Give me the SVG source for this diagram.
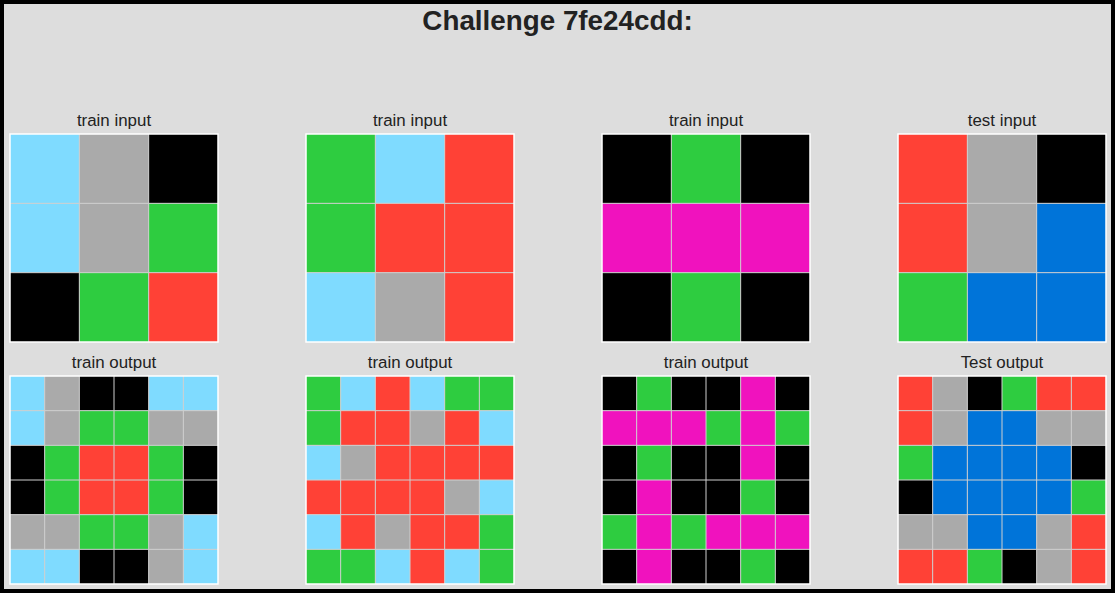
<svg xmlns="http://www.w3.org/2000/svg" width="1115" height="593" viewBox="0 0 1115 593">
<style>
.t{font-family:"Liberation Sans",Arial,sans-serif;font-size:16.9px;fill:#222;text-anchor:middle}
.h{font-family:"Liberation Sans",Arial,sans-serif;font-size:27.8px;font-weight:bold;fill:#222;text-anchor:middle}
.k{fill:#000}.b{fill:#7fdbff}.g{fill:#aaaaaa}.n{fill:#2ecc40}.r{fill:#ff4136}.m{fill:#f012be}.u{fill:#0074d9}
.ln{stroke:#cfcfcf;stroke-width:1;fill:none}
.fr{stroke:#ffffff;stroke-width:1.5;fill:none}
</style>
<defs>
<path id="g3" class="ln" d="M69.33 0V208M138.67 0V208M0 69.33H208M0 138.67H208"/>
<path id="g6" class="ln" d="M34.67 0V208M69.33 0V208M104 0V208M138.67 0V208M173.33 0V208M0 34.67H208M0 69.33H208M0 104H208M0 138.67H208M0 173.33H208"/>
</defs>
<rect x="0" y="0" width="1115" height="593" fill="#000"/>
<rect x="4" y="4" width="1107" height="585" fill="#dddddd"/>
<text class="h" x="557.5" y="30">Challenge 7fe24cdd:</text>

<g id="train1-input" transform="translate(10,134)">
<text class="t" x="104" y="-8">train input</text>
<rect class="b" x="0" y="0" width="69.33" height="69.33"/><rect class="g" x="69.33" y="0" width="69.33" height="69.33"/><rect class="k" x="138.67" y="0" width="69.33" height="69.33"/>
<rect class="b" x="0" y="69.33" width="69.33" height="69.33"/><rect class="g" x="69.33" y="69.33" width="69.33" height="69.33"/><rect class="n" x="138.67" y="69.33" width="69.33" height="69.33"/>
<rect class="k" x="0" y="138.67" width="69.33" height="69.33"/><rect class="n" x="69.33" y="138.67" width="69.33" height="69.33"/><rect class="r" x="138.67" y="138.67" width="69.33" height="69.33"/>
<use href="#g3"/><rect class="fr" x="0" y="0" width="208" height="208"/>
</g>

<g id="train2-input" transform="translate(306,134)">
<text class="t" x="104" y="-8">train input</text>
<rect class="n" x="0" y="0" width="69.33" height="69.33"/><rect class="b" x="69.33" y="0" width="69.33" height="69.33"/><rect class="r" x="138.67" y="0" width="69.33" height="69.33"/>
<rect class="n" x="0" y="69.33" width="69.33" height="69.33"/><rect class="r" x="69.33" y="69.33" width="69.33" height="69.33"/><rect class="r" x="138.67" y="69.33" width="69.33" height="69.33"/>
<rect class="b" x="0" y="138.67" width="69.33" height="69.33"/><rect class="g" x="69.33" y="138.67" width="69.33" height="69.33"/><rect class="r" x="138.67" y="138.67" width="69.33" height="69.33"/>
<use href="#g3"/><rect class="fr" x="0" y="0" width="208" height="208"/>
</g>

<g id="train3-input" transform="translate(602,134)">
<text class="t" x="104" y="-8">train input</text>
<rect class="k" x="0" y="0" width="69.33" height="69.33"/><rect class="n" x="69.33" y="0" width="69.33" height="69.33"/><rect class="k" x="138.67" y="0" width="69.33" height="69.33"/>
<rect class="m" x="0" y="69.33" width="69.33" height="69.33"/><rect class="m" x="69.33" y="69.33" width="69.33" height="69.33"/><rect class="m" x="138.67" y="69.33" width="69.33" height="69.33"/>
<rect class="k" x="0" y="138.67" width="69.33" height="69.33"/><rect class="n" x="69.33" y="138.67" width="69.33" height="69.33"/><rect class="k" x="138.67" y="138.67" width="69.33" height="69.33"/>
<use href="#g3"/><rect class="fr" x="0" y="0" width="208" height="208"/>
</g>

<g id="test-input" transform="translate(898,134)">
<text class="t" x="104" y="-8">test input</text>
<rect class="r" x="0" y="0" width="69.33" height="69.33"/><rect class="g" x="69.33" y="0" width="69.33" height="69.33"/><rect class="k" x="138.67" y="0" width="69.33" height="69.33"/>
<rect class="r" x="0" y="69.33" width="69.33" height="69.33"/><rect class="g" x="69.33" y="69.33" width="69.33" height="69.33"/><rect class="u" x="138.67" y="69.33" width="69.33" height="69.33"/>
<rect class="n" x="0" y="138.67" width="69.33" height="69.33"/><rect class="u" x="69.33" y="138.67" width="69.33" height="69.33"/><rect class="u" x="138.67" y="138.67" width="69.33" height="69.33"/>
<use href="#g3"/><rect class="fr" x="0" y="0" width="208" height="208"/>
</g>

<g id="train1-output" transform="translate(10,376)">
<text class="t" x="104" y="-8">train output</text>
<rect class="b" x="0" y="0" width="34.67" height="34.67"/><rect class="g" x="34.67" y="0" width="34.67" height="34.67"/><rect class="k" x="69.33" y="0" width="34.67" height="34.67"/><rect class="k" x="104" y="0" width="34.67" height="34.67"/><rect class="b" x="138.67" y="0" width="34.67" height="34.67"/><rect class="b" x="173.33" y="0" width="34.67" height="34.67"/>
<rect class="b" x="0" y="34.67" width="34.67" height="34.67"/><rect class="g" x="34.67" y="34.67" width="34.67" height="34.67"/><rect class="n" x="69.33" y="34.67" width="34.67" height="34.67"/><rect class="n" x="104" y="34.67" width="34.67" height="34.67"/><rect class="g" x="138.67" y="34.67" width="34.67" height="34.67"/><rect class="g" x="173.33" y="34.67" width="34.67" height="34.67"/>
<rect class="k" x="0" y="69.33" width="34.67" height="34.67"/><rect class="n" x="34.67" y="69.33" width="34.67" height="34.67"/><rect class="r" x="69.33" y="69.33" width="34.67" height="34.67"/><rect class="r" x="104" y="69.33" width="34.67" height="34.67"/><rect class="n" x="138.67" y="69.33" width="34.67" height="34.67"/><rect class="k" x="173.33" y="69.33" width="34.67" height="34.67"/>
<rect class="k" x="0" y="104" width="34.67" height="34.67"/><rect class="n" x="34.67" y="104" width="34.67" height="34.67"/><rect class="r" x="69.33" y="104" width="34.67" height="34.67"/><rect class="r" x="104" y="104" width="34.67" height="34.67"/><rect class="n" x="138.67" y="104" width="34.67" height="34.67"/><rect class="k" x="173.33" y="104" width="34.67" height="34.67"/>
<rect class="g" x="0" y="138.67" width="34.67" height="34.67"/><rect class="g" x="34.67" y="138.67" width="34.67" height="34.67"/><rect class="n" x="69.33" y="138.67" width="34.67" height="34.67"/><rect class="n" x="104" y="138.67" width="34.67" height="34.67"/><rect class="g" x="138.67" y="138.67" width="34.67" height="34.67"/><rect class="b" x="173.33" y="138.67" width="34.67" height="34.67"/>
<rect class="b" x="0" y="173.33" width="34.67" height="34.67"/><rect class="b" x="34.67" y="173.33" width="34.67" height="34.67"/><rect class="k" x="69.33" y="173.33" width="34.67" height="34.67"/><rect class="k" x="104" y="173.33" width="34.67" height="34.67"/><rect class="g" x="138.67" y="173.33" width="34.67" height="34.67"/><rect class="b" x="173.33" y="173.33" width="34.67" height="34.67"/>
<use href="#g6"/><rect class="fr" x="0" y="0" width="208" height="208"/>
</g>

<g id="train2-output" transform="translate(306,376)">
<text class="t" x="104" y="-8">train output</text>
<rect class="n" x="0" y="0" width="34.67" height="34.67"/><rect class="b" x="34.67" y="0" width="34.67" height="34.67"/><rect class="r" x="69.33" y="0" width="34.67" height="34.67"/><rect class="b" x="104" y="0" width="34.67" height="34.67"/><rect class="n" x="138.67" y="0" width="34.67" height="34.67"/><rect class="n" x="173.33" y="0" width="34.67" height="34.67"/>
<rect class="n" x="0" y="34.67" width="34.67" height="34.67"/><rect class="r" x="34.67" y="34.67" width="34.67" height="34.67"/><rect class="r" x="69.33" y="34.67" width="34.67" height="34.67"/><rect class="g" x="104" y="34.67" width="34.67" height="34.67"/><rect class="r" x="138.67" y="34.67" width="34.67" height="34.67"/><rect class="b" x="173.33" y="34.67" width="34.67" height="34.67"/>
<rect class="b" x="0" y="69.33" width="34.67" height="34.67"/><rect class="g" x="34.67" y="69.33" width="34.67" height="34.67"/><rect class="r" x="69.33" y="69.33" width="34.67" height="34.67"/><rect class="r" x="104" y="69.33" width="34.67" height="34.67"/><rect class="r" x="138.67" y="69.33" width="34.67" height="34.67"/><rect class="r" x="173.33" y="69.33" width="34.67" height="34.67"/>
<rect class="r" x="0" y="104" width="34.67" height="34.67"/><rect class="r" x="34.67" y="104" width="34.67" height="34.67"/><rect class="r" x="69.33" y="104" width="34.67" height="34.67"/><rect class="r" x="104" y="104" width="34.67" height="34.67"/><rect class="g" x="138.67" y="104" width="34.67" height="34.67"/><rect class="b" x="173.33" y="104" width="34.67" height="34.67"/>
<rect class="b" x="0" y="138.67" width="34.67" height="34.67"/><rect class="r" x="34.67" y="138.67" width="34.67" height="34.67"/><rect class="g" x="69.33" y="138.67" width="34.67" height="34.67"/><rect class="r" x="104" y="138.67" width="34.67" height="34.67"/><rect class="r" x="138.67" y="138.67" width="34.67" height="34.67"/><rect class="n" x="173.33" y="138.67" width="34.67" height="34.67"/>
<rect class="n" x="0" y="173.33" width="34.67" height="34.67"/><rect class="n" x="34.67" y="173.33" width="34.67" height="34.67"/><rect class="b" x="69.33" y="173.33" width="34.67" height="34.67"/><rect class="r" x="104" y="173.33" width="34.67" height="34.67"/><rect class="b" x="138.67" y="173.33" width="34.67" height="34.67"/><rect class="n" x="173.33" y="173.33" width="34.67" height="34.67"/>
<use href="#g6"/><rect class="fr" x="0" y="0" width="208" height="208"/>
</g>

<g id="train3-output" transform="translate(602,376)">
<text class="t" x="104" y="-8">train output</text>
<rect class="k" x="0" y="0" width="34.67" height="34.67"/><rect class="n" x="34.67" y="0" width="34.67" height="34.67"/><rect class="k" x="69.33" y="0" width="34.67" height="34.67"/><rect class="k" x="104" y="0" width="34.67" height="34.67"/><rect class="m" x="138.67" y="0" width="34.67" height="34.67"/><rect class="k" x="173.33" y="0" width="34.67" height="34.67"/>
<rect class="m" x="0" y="34.67" width="34.67" height="34.67"/><rect class="m" x="34.67" y="34.67" width="34.67" height="34.67"/><rect class="m" x="69.33" y="34.67" width="34.67" height="34.67"/><rect class="n" x="104" y="34.67" width="34.67" height="34.67"/><rect class="m" x="138.67" y="34.67" width="34.67" height="34.67"/><rect class="n" x="173.33" y="34.67" width="34.67" height="34.67"/>
<rect class="k" x="0" y="69.33" width="34.67" height="34.67"/><rect class="n" x="34.67" y="69.33" width="34.67" height="34.67"/><rect class="k" x="69.33" y="69.33" width="34.67" height="34.67"/><rect class="k" x="104" y="69.33" width="34.67" height="34.67"/><rect class="m" x="138.67" y="69.33" width="34.67" height="34.67"/><rect class="k" x="173.33" y="69.33" width="34.67" height="34.67"/>
<rect class="k" x="0" y="104" width="34.67" height="34.67"/><rect class="m" x="34.67" y="104" width="34.67" height="34.67"/><rect class="k" x="69.33" y="104" width="34.67" height="34.67"/><rect class="k" x="104" y="104" width="34.67" height="34.67"/><rect class="n" x="138.67" y="104" width="34.67" height="34.67"/><rect class="k" x="173.33" y="104" width="34.67" height="34.67"/>
<rect class="n" x="0" y="138.67" width="34.67" height="34.67"/><rect class="m" x="34.67" y="138.67" width="34.67" height="34.67"/><rect class="n" x="69.33" y="138.67" width="34.67" height="34.67"/><rect class="m" x="104" y="138.67" width="34.67" height="34.67"/><rect class="m" x="138.67" y="138.67" width="34.67" height="34.67"/><rect class="m" x="173.33" y="138.67" width="34.67" height="34.67"/>
<rect class="k" x="0" y="173.33" width="34.67" height="34.67"/><rect class="m" x="34.67" y="173.33" width="34.67" height="34.67"/><rect class="k" x="69.33" y="173.33" width="34.67" height="34.67"/><rect class="k" x="104" y="173.33" width="34.67" height="34.67"/><rect class="n" x="138.67" y="173.33" width="34.67" height="34.67"/><rect class="k" x="173.33" y="173.33" width="34.67" height="34.67"/>
<use href="#g6"/><rect class="fr" x="0" y="0" width="208" height="208"/>
</g>

<g id="test-output" transform="translate(898,376)">
<text class="t" x="104" y="-8">Test output</text>
<rect class="r" x="0" y="0" width="34.67" height="34.67"/><rect class="g" x="34.67" y="0" width="34.67" height="34.67"/><rect class="k" x="69.33" y="0" width="34.67" height="34.67"/><rect class="n" x="104" y="0" width="34.67" height="34.67"/><rect class="r" x="138.67" y="0" width="34.67" height="34.67"/><rect class="r" x="173.33" y="0" width="34.67" height="34.67"/>
<rect class="r" x="0" y="34.67" width="34.67" height="34.67"/><rect class="g" x="34.67" y="34.67" width="34.67" height="34.67"/><rect class="u" x="69.33" y="34.67" width="34.67" height="34.67"/><rect class="u" x="104" y="34.67" width="34.67" height="34.67"/><rect class="g" x="138.67" y="34.67" width="34.67" height="34.67"/><rect class="g" x="173.33" y="34.67" width="34.67" height="34.67"/>
<rect class="n" x="0" y="69.33" width="34.67" height="34.67"/><rect class="u" x="34.67" y="69.33" width="34.67" height="34.67"/><rect class="u" x="69.33" y="69.33" width="34.67" height="34.67"/><rect class="u" x="104" y="69.33" width="34.67" height="34.67"/><rect class="u" x="138.67" y="69.33" width="34.67" height="34.67"/><rect class="k" x="173.33" y="69.33" width="34.67" height="34.67"/>
<rect class="k" x="0" y="104" width="34.67" height="34.67"/><rect class="u" x="34.67" y="104" width="34.67" height="34.67"/><rect class="u" x="69.33" y="104" width="34.67" height="34.67"/><rect class="u" x="104" y="104" width="34.67" height="34.67"/><rect class="u" x="138.67" y="104" width="34.67" height="34.67"/><rect class="n" x="173.33" y="104" width="34.67" height="34.67"/>
<rect class="g" x="0" y="138.67" width="34.67" height="34.67"/><rect class="g" x="34.67" y="138.67" width="34.67" height="34.67"/><rect class="u" x="69.33" y="138.67" width="34.67" height="34.67"/><rect class="u" x="104" y="138.67" width="34.67" height="34.67"/><rect class="g" x="138.67" y="138.67" width="34.67" height="34.67"/><rect class="r" x="173.33" y="138.67" width="34.67" height="34.67"/>
<rect class="r" x="0" y="173.33" width="34.67" height="34.67"/><rect class="r" x="34.67" y="173.33" width="34.67" height="34.67"/><rect class="n" x="69.33" y="173.33" width="34.67" height="34.67"/><rect class="k" x="104" y="173.33" width="34.67" height="34.67"/><rect class="g" x="138.67" y="173.33" width="34.67" height="34.67"/><rect class="r" x="173.33" y="173.33" width="34.67" height="34.67"/>
<use href="#g6"/><rect class="fr" x="0" y="0" width="208" height="208"/>
</g>
</svg>
